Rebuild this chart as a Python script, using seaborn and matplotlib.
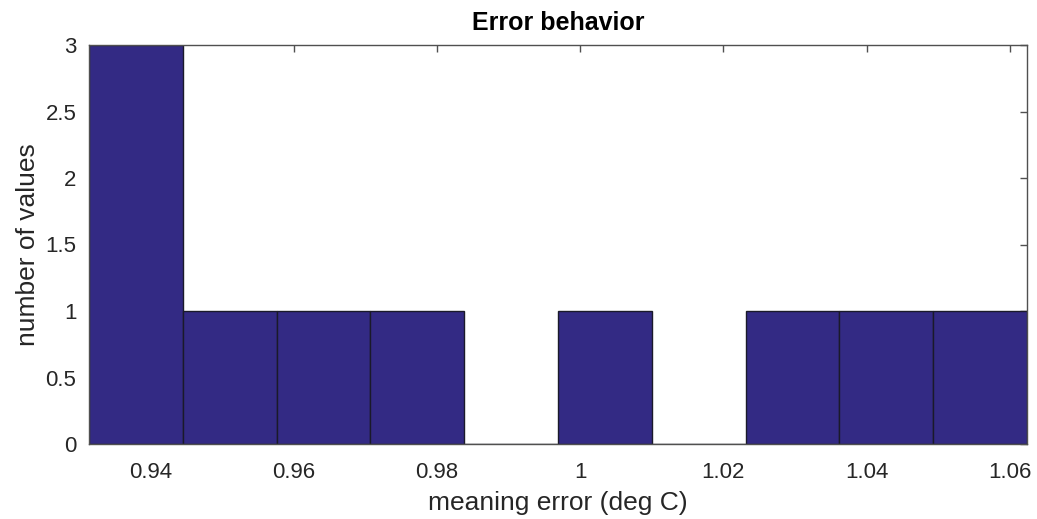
import numpy as np
import pandas as pd
import matplotlib
matplotlib.use("Agg")
import matplotlib.pyplot as plt
import seaborn as sns

# Data (10 bins)
x_min = 0.9314
x_max = 1.0624
counts = [3, 1, 1, 1, 0, 1, 0, 1, 1, 1]
x_ticks = [0.94, 0.96, 0.98, 1.00, 1.02, 1.04, 1.06]
x_tick_labels = ["0.94", "0.96", "0.98", "1", "1.02", "1.04", "1.06"]
y_ticks = [0, 0.5, 1, 1.5, 2, 2.5, 3]
y_tick_labels = ["0", "0.5", "1", "1.5", "2", "2.5", "3"]

edges = np.linspace(x_min, x_max, len(counts) + 1)
centers = (edges[:-1] + edges[1:]) / 2
df = pd.DataFrame({"err": centers, "n": np.array(counts, dtype=float)})

sns.set_style("white")
plt.rcParams["font.family"] = ["Liberation Sans", "DejaVu Sans"]

fig = plt.figure(figsize=(10.37, 5.19), dpi=100)
ax = fig.add_axes([89 / 1037, 1 - 444 / 519, (1027 - 89) / 1037, (444 - 45) / 519])

sns.histplot(data=df, x="err", weights="n", bins=[float(e) for e in edges], ax=ax,
             color="#332a84", alpha=1.0, edgecolor="#1a1a2a", linewidth=1.0)

ax.set_xlim(x_min, x_max)
ax.set_ylim(0, 3)
ax.set_xticks(x_ticks)
ax.set_xticklabels(x_tick_labels)
ax.set_yticks(y_ticks)
ax.set_yticklabels(y_tick_labels)

for s in ax.spines.values():
    s.set_visible(True)
    s.set_color("#505050")
    s.set_linewidth(1.0)

ax.tick_params(axis="both", which="both", direction="in", top=True, right=True,
               length=5, width=1.0, color="#505050", labelsize=16,
               labelcolor="#262626")
ax.tick_params(axis="x", pad=13)
ax.tick_params(axis="y", pad=9)

ax.set_xlabel("meaning error (deg C)", fontsize=19, color="#262626", labelpad=6)
ax.set_ylabel("number of values", fontsize=19, color="#262626", labelpad=4)
ax.set_title("Error behavior", fontsize=18, fontweight="bold", color="black", pad=11)

fig.savefig("out.png", dpi=100, facecolor="white")
